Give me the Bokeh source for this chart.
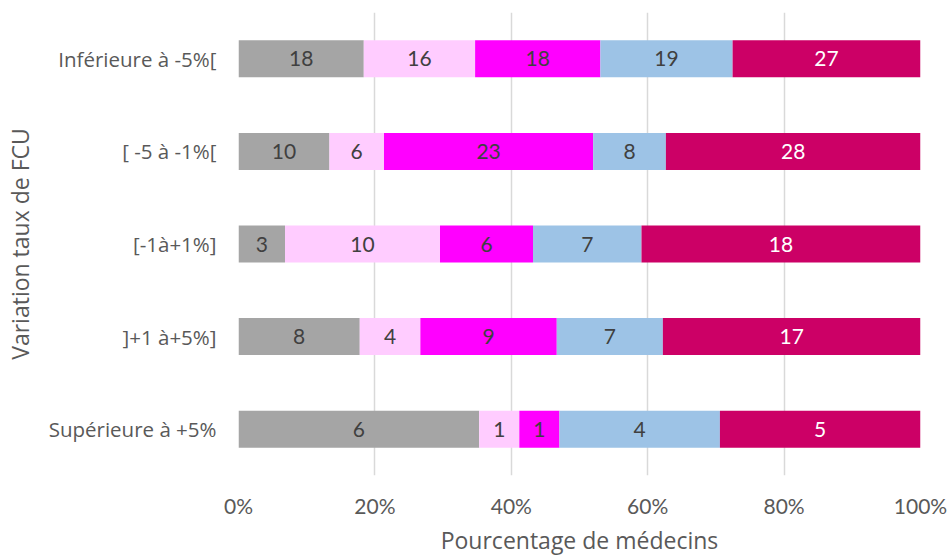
from bokeh.plotting import figure
from bokeh.models import ColumnDataSource, Range1d, FactorRange, FixedTicker
from bokeh.core.properties import value
from bokeh.embed import file_html
from bokeh.resources import INLINE

# ---- data ----
categories = ["Inférieure à -5%[", "[ -5 à -1%[", "[-1à+1%]", "]+1 à+5%]", "Supérieure à +5%"]
series_names = ["s1", "s2", "s3", "s4", "s5"]
s1 = [18, 10, 3, 8, 6]
s2 = [16, 6, 10, 4, 1]
s3 = [18, 23, 6, 9, 1]
s4 = [19, 8, 7, 7, 4]
s5 = [27, 28, 18, 17, 5]
x_ticks = [0, 20, 40, 60, 80, 100]
x_tick_labels = ["0%", "20%", "40%", "60%", "80%", "100%"]
x_title = "Pourcentage de médecins"
y_title = "Variation taux de FCU"

# ---- styles ----
colors = ["#A5A5A5", "#FFCCFF", "#FF00FF", "#9DC3E6", "#CC0066"]
label_colors = ["#404040", "#404040", "#404040", "#404040", "#FFFFFF"]

series = [s1, s2, s3, s4, s5]
totals = [sum(v[i] for v in series) for i in range(len(categories))]
pcts = [[100.0 * v[i] / totals[i] for i in range(len(categories))] for v in series]

data = {"cat": categories}
for name, pc in zip(series_names, pcts):
    data[name] = pc
source = ColumnDataSource(data)

p = figure(width=950, height=558,
           y_range=FactorRange(*reversed(categories)),
           x_range=Range1d(0, 100),
           output_backend="svg", toolbar_location=None,
           min_border_left=238, min_border_top=12, min_border_right=30, min_border_bottom=83)

p.hbar_stack(series_names, y="cat", height=0.4, color=colors, source=source, line_color=None)

# data labels
lx, ly, lt, lc = [], [], [], []
for i, cat in enumerate(categories):
    left = 0.0
    for j, v in enumerate(series):
        w = pcts[j][i]
        lx.append(left + w / 2)
        ly.append(cat)
        lt.append(str(v[i]))
        lc.append(label_colors[j])
        left += w
lsrc = ColumnDataSource(dict(x=lx, y=ly, t=lt, c=lc))
p.text(x="x", y="y", text="t", text_color="c", source=lsrc,
       text_align="center", text_baseline="middle",
       text_font=value("Lato"), text_font_size="21px")

# axes
p.xaxis.ticker = FixedTicker(ticks=x_ticks)
p.xaxis.major_label_overrides = {t: l for t, l in zip(x_ticks, x_tick_labels)}
for ax in (p.xaxis[0], p.yaxis[0]):
    ax.axis_line_color = None
    ax.major_tick_line_color = None
    ax.minor_tick_line_color = None
    ax.axis_label_text_font = "Open Sans"
    ax.axis_label_text_font_size = "23px"
    ax.axis_label_text_font_style = "normal"
    ax.axis_label_text_color = "#595959"
    ax.major_label_text_color = "#595959"

p.xaxis.axis_label = x_title
p.xaxis.major_label_text_font = "Lato"
p.xaxis.major_label_text_font_size = "21px"
p.xaxis.major_label_standoff = 11
p.xaxis.axis_label_standoff = 3

p.yaxis.axis_label = y_title
p.yaxis.major_label_text_font = "Open Sans"
p.yaxis.major_label_text_font_size = "20.5px"
p.yaxis.major_label_standoff = 16
p.yaxis.axis_label_standoff = 10

p.xgrid.grid_line_color = "#D9D9D9"
p.xgrid.grid_line_width = 1.5
p.xgrid.ticker = FixedTicker(ticks=x_ticks)
p.ygrid.grid_line_color = None
p.outline_line_color = None

open("out.html", "w").write(file_html(p, INLINE))
